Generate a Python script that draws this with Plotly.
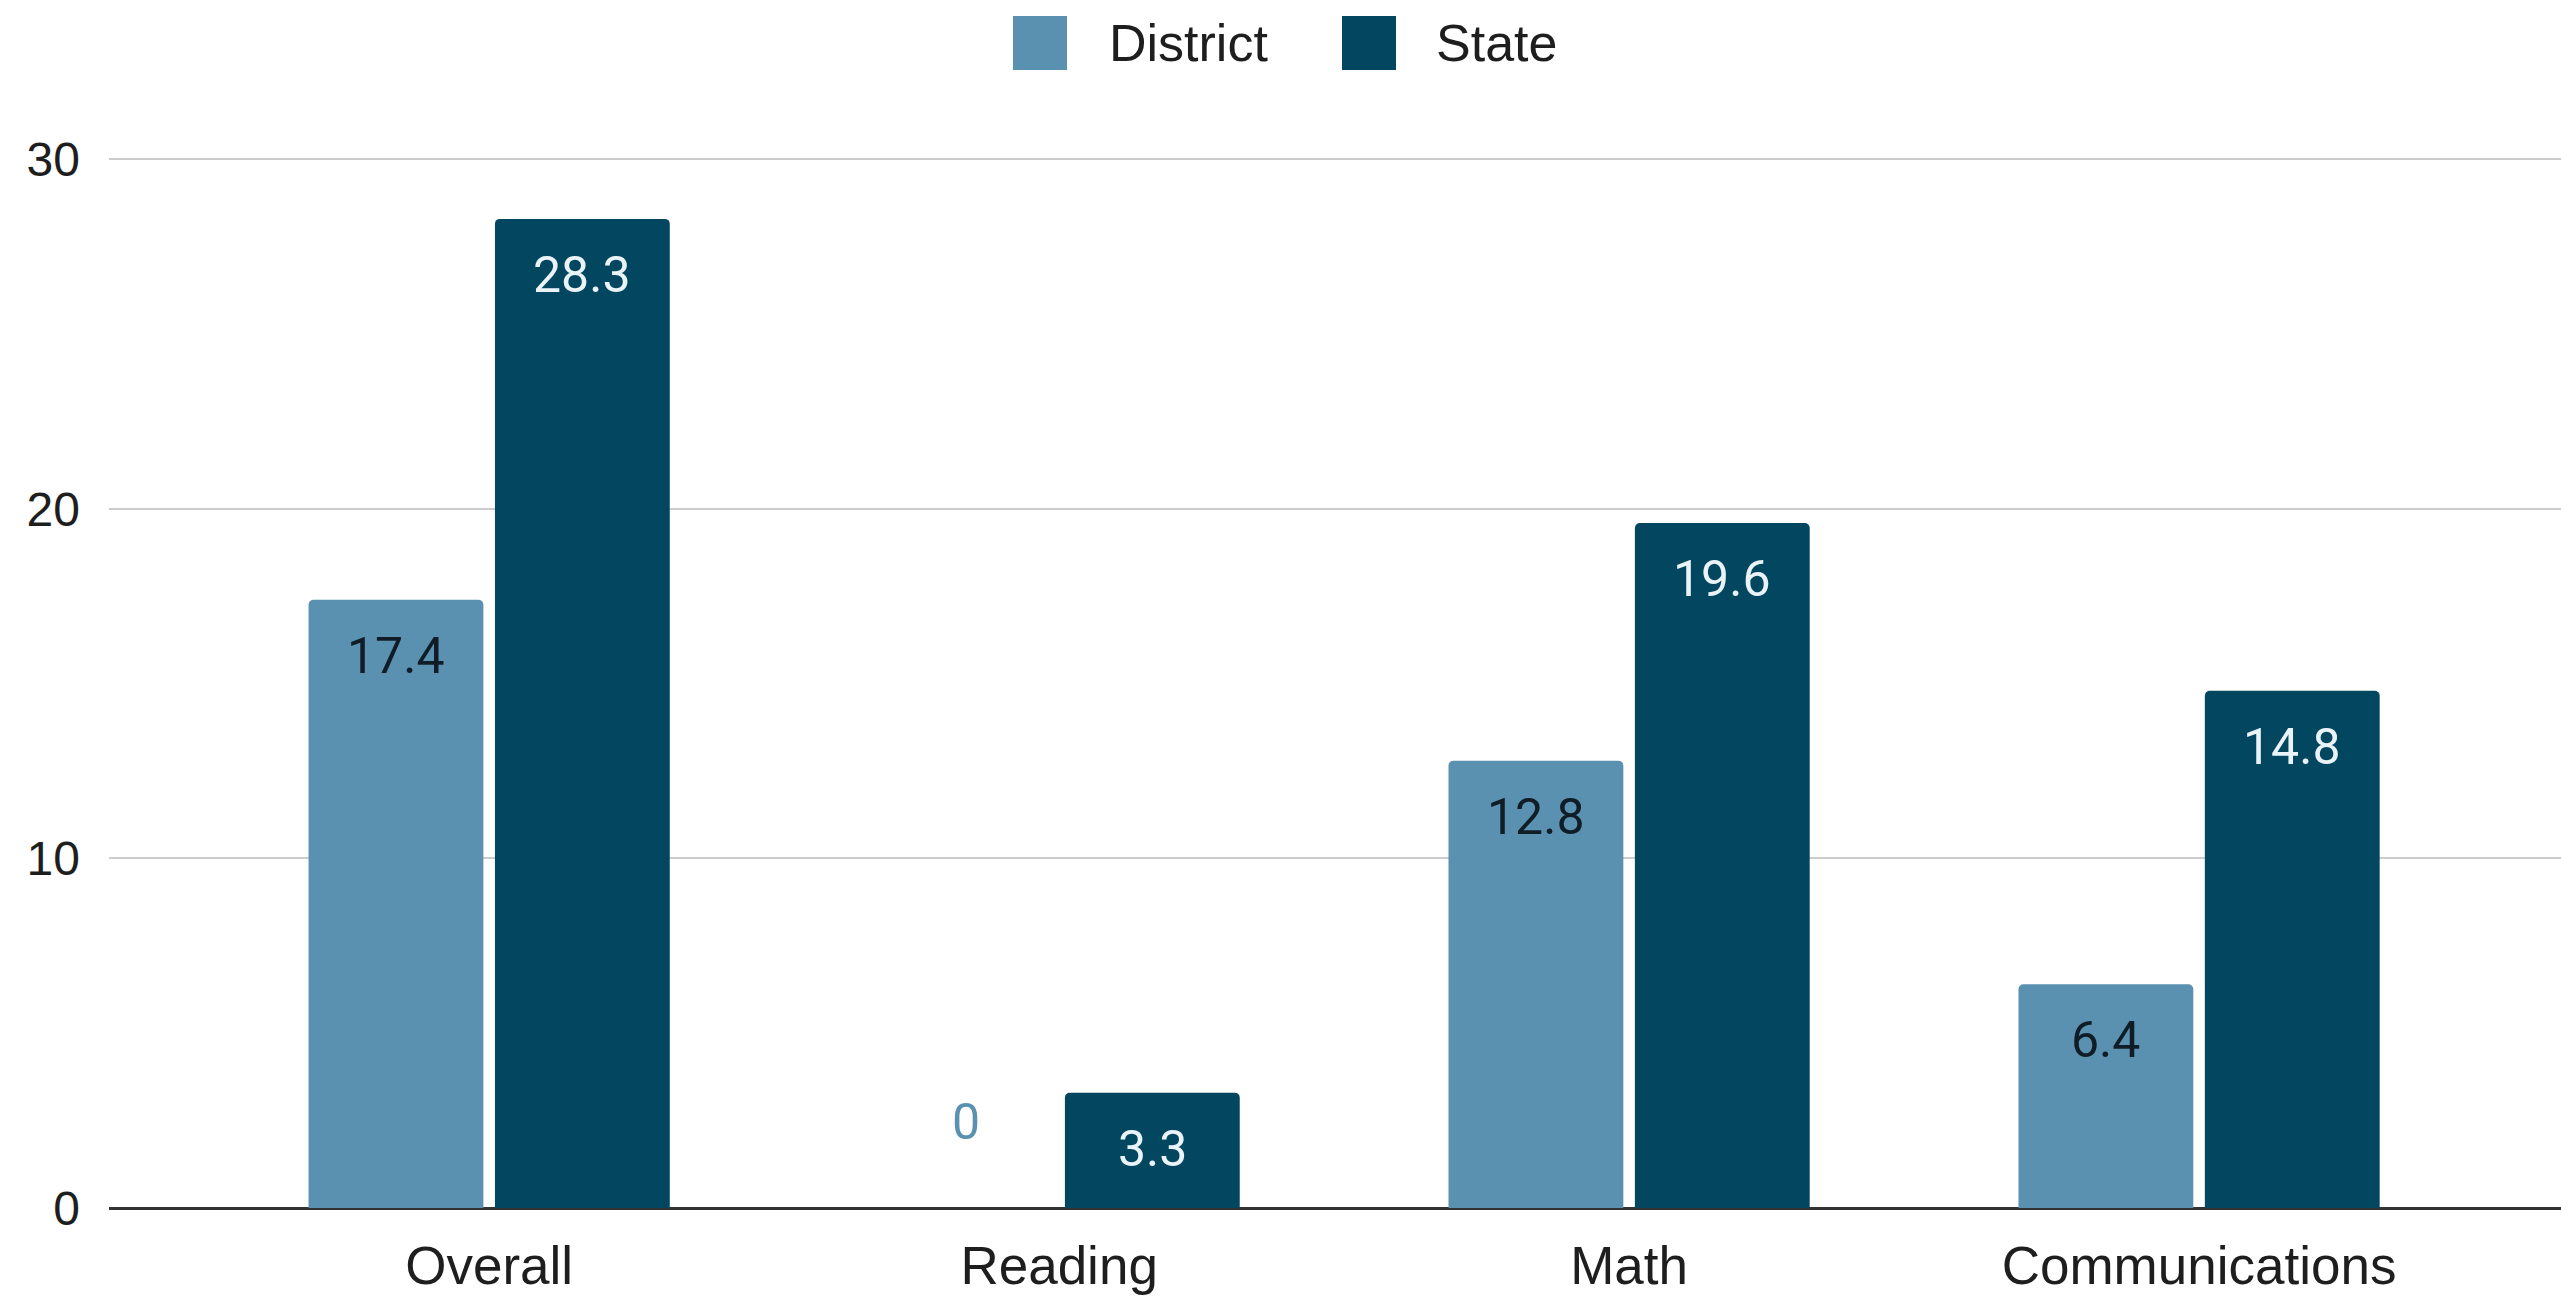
import plotly.graph_objects as go

# ---- data ----
categories = ["Overall", "Reading", "Math", "Communications"]
district = [17.4, 0, 12.8, 6.4]
state = [28.3, 3.3, 19.6, 14.8]
series_names = ["District", "State"]
y_ticks = [0, 10, 20, 30]

# ---- style ----
colors = ["#5a91b0", "#03465f"]
inside_label_colors = ["#101c26", "#eaf3f7"]
W, H = 2561, 1297
ML, MR, MT, MB = 109, 0, 142, 89
x_range = [-0.667, 3.635]
y_range = [0, 30.5]
BARGAP = 0.346
GROUPGAP = 0.062
SANS = "Liberation Sans, Arial, sans-serif"
XTICK_FONT = dict(family=SANS, size=53, color="#1e1e1e")
YTICK_FONT = dict(family=SANS, size=48, color="#1e1e1e")
LEGEND_FONT = dict(family=SANS, size=52, color="#1e1e1e")
LABEL_FONT = "Roboto, Liberation Sans, sans-serif"

fig = go.Figure()
series_vals = [district, state]
for name, vals, col in zip(series_names, series_vals, colors):
    fig.add_trace(go.Bar(
        x=categories, y=vals, name=name,
        marker=dict(color=col, line=dict(width=0)),
        showlegend=False, hoverinfo="x+y+name",
    ))

# value labels positioned via axis coordinates
plot_w = W - ML - MR
plot_h = H - MT - MB
px_per_cat = plot_w / (x_range[1] - x_range[0])
px_per_unit = plot_h / (y_range[1] - y_range[0])
slot = px_per_cat * (1 - BARGAP) / len(series_names)
annotations = []
for i, vals in enumerate(series_vals):
    xshift = (i - (len(series_names) - 1) / 2) * slot
    for cat, v in zip(categories, vals):
        inside = v * px_per_unit > 100
        annotations.append(dict(
            x=cat, y=v, xref="x", yref="y", text=f"{v:g}", showarrow=False,
            xanchor="center", yanchor="middle", xshift=xshift,
            yshift=-56 if inside else 86,
            font=dict(family=LABEL_FONT, size=50,
                      color=inside_label_colors[i] if inside else colors[i]),
        ))

# legend (top centre) built from series names/colours
def px_to_paper_x(px):
    return (px - ML) / plot_w

def px_to_paper_y(py):
    return (H - MB - py) / plot_h

legend_sq = [(1013, 1067), (1342, 1396)]
legend_txt_x = [1107, 1434]
sq_top, sq_bot, leg_cy = 16, 70, 43
shapes = []
for (x0, x1), tx, name, col in zip(legend_sq, legend_txt_x, series_names, colors):
    shapes.append(dict(type="rect", xref="paper", yref="paper",
                       x0=px_to_paper_x(x0), x1=px_to_paper_x(x1),
                       y0=px_to_paper_y(sq_bot), y1=px_to_paper_y(sq_top),
                       fillcolor=col, line=dict(width=0), layer="above"))
    annotations.append(dict(x=px_to_paper_x(tx), y=px_to_paper_y(leg_cy), xref="paper", yref="paper",
                            text=name, showarrow=False, xanchor="left", yanchor="middle",
                            font=LEGEND_FONT))

fig.update_layout(
    width=W, height=H,
    margin=dict(l=ML, r=MR, t=MT, b=MB, pad=0),
    paper_bgcolor="white", plot_bgcolor="white",
    barmode="group", bargap=BARGAP, bargroupgap=GROUPGAP,
    barcornerradius=5,
    showlegend=False,
    annotations=annotations, shapes=shapes,
    xaxis=dict(range=x_range, showgrid=False, showline=False, ticks="",
               tickfont=XTICK_FONT, ticklabelstandoff=22, fixedrange=True),
    yaxis=dict(range=y_range, tickvals=y_ticks, showgrid=True, gridcolor="#cccccc", gridwidth=2,
               zeroline=True, zerolinecolor="#333333", zerolinewidth=3,
               showline=False, ticks="", tickfont=YTICK_FONT, ticklabelstandoff=28, fixedrange=True),
)

fig.write_html("out.html",
               config={"displayModeBar": False},
               post_script="document.body.style.margin='0';document.body.style.overflow='hidden';")
